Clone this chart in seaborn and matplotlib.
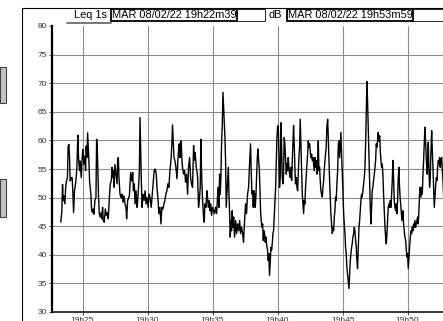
"""
Leq 1s noise level trace - sound level meter printout
"""

import pandas as pd
import matplotlib
matplotlib.use('Agg')
import matplotlib.pyplot as plt
import matplotlib.dates as mdates
from matplotlib.patches import Rectangle
from matplotlib.lines import Line2D
import seaborn as sns

sns.set_style('white')
plt.rcParams['font.family'] = ['Liberation Sans', 'DejaVu Sans']

# Header texts
channel = 'Leq 1s'
unit = 'dB'
start_label = 'MAR 08/02/22 19h22m39'
end_label = 'MAR 08/02/22 19h53m59'

# Time window
day = '2022-02-08'
t_start = '19:22:39'
t_end = '19:53:59'
y_ticks = [30, 35, 40, 45, 50, 55, 60, 65, 70, 75, 80]

# Trace: minutes past 19h00 and level in dB
minutes = [
    23.33, 23.41, 23.46, 23.51, 23.56, 23.64, 23.71, 23.77, 23.84, 23.89,
    23.95, 24.00, 24.05, 24.13, 24.20, 24.25, 24.31, 24.38, 24.43, 24.51,
    24.56, 24.64, 24.69, 24.77, 24.82, 24.90, 24.97, 25.03, 25.10, 25.18,
    25.23, 25.28, 25.33, 25.39, 25.44, 25.49, 25.54, 25.59, 25.64, 25.69,
    25.75, 25.82, 25.87, 25.95, 26.03, 26.08, 26.13, 26.18, 26.23, 26.29,
    26.36, 26.44, 26.49, 26.54, 26.59, 26.67, 26.75, 26.83, 26.90, 26.98,
    27.06, 27.13, 27.21, 27.26, 27.31, 27.37, 27.42, 27.49, 27.57, 27.65,
    27.70, 27.75, 27.80, 27.88, 27.96, 28.03, 28.11, 28.19, 28.26, 28.34,
    28.39, 28.47, 28.55, 28.60, 28.65, 28.70, 28.78, 28.86, 28.91, 28.98,
    29.04, 29.11, 29.19, 29.24, 29.32, 29.37, 29.42, 29.47, 29.52, 29.58,
    29.65, 29.73, 29.81, 29.88, 29.96, 30.04, 30.12, 30.19,
    30.28, 30.41, 30.51, 30.59, 30.67, 30.72, 30.79, 30.87, 30.95, 31.03,
    31.10, 31.18, 31.26, 31.33, 31.41, 31.49, 31.56, 31.64, 31.72, 31.80,
    31.87, 31.92, 31.97, 32.03, 32.10, 32.18, 32.26, 32.33, 32.40, 32.44,
    32.49, 32.54, 32.59, 32.64, 32.69, 32.77, 32.85, 32.92, 33.00, 33.08,
    33.15, 33.23, 33.31, 33.38, 33.46, 33.54, 33.59, 33.64, 33.69, 33.74,
    33.79, 33.85, 33.92, 34.00, 34.05, 34.10, 34.15, 34.21, 34.26, 34.31,
    34.36, 34.41, 34.49, 34.56, 34.61, 34.67, 34.74, 34.80, 34.85, 34.92,
    35.00, 35.08, 35.15, 35.23, 35.31, 35.38, 35.44, 35.49, 35.54, 35.59,
    35.64, 35.69, 35.74, 35.80, 35.85, 35.90, 35.95, 36.00, 36.05, 36.10,
    36.15, 36.21, 36.26, 36.31, 36.36, 36.41, 36.46, 36.51, 36.56, 36.62,
    36.69, 36.77, 36.85, 36.92, 37.00, 37.08, 37.15, 37.23, 37.31, 37.38,
    37.46, 37.54, 37.61, 37.69, 37.77, 37.82, 37.87, 37.92, 37.97, 38.03,
    38.08, 38.13, 38.18, 38.23, 38.28, 38.33, 38.38, 38.44, 38.49, 38.54,
    38.59, 38.64, 38.69, 38.74, 38.80, 38.85, 38.90, 38.95, 39.00, 39.05,
    39.10, 39.15, 39.23, 39.28, 39.33, 39.38, 39.44, 39.49, 39.54, 39.59,
    39.64, 39.69, 39.74, 39.80, 39.85, 39.90, 39.95, 40.00,
    40.05, 40.10, 40.15, 40.21, 40.26, 40.31, 40.36, 40.41, 40.46, 40.51,
    40.56, 40.62, 40.67, 40.72, 40.77, 40.82, 40.87, 40.92, 40.97, 41.03,
    41.08, 41.13, 41.18, 41.23, 41.28, 41.33, 41.38, 41.44, 41.49, 41.54,
    41.59, 41.64, 41.69, 41.74, 41.79, 41.85, 41.90, 41.95, 42.00, 42.05,
    42.10, 42.15, 42.21, 42.26, 42.31, 42.36, 42.41, 42.46, 42.51, 42.56,
    42.62, 42.67, 42.72, 42.77, 42.82, 42.87, 42.92, 42.97, 43.03, 43.08,
    43.13, 43.18, 43.23, 43.28, 43.33, 43.38, 43.44, 43.49, 43.54, 43.59,
    43.64, 43.69, 43.74, 43.79, 43.85, 43.90, 43.95, 44.00, 44.05, 44.10,
    44.15, 44.21, 44.26, 44.31, 44.36, 44.41, 44.46, 44.51, 44.56, 44.62,
    44.67, 44.72, 44.77, 44.82, 44.87, 44.92, 44.97, 45.03, 45.08, 45.13,
    45.18, 45.23, 45.28, 45.33, 45.38, 45.44, 45.49, 45.54, 45.59, 45.64,
    45.69, 45.74, 45.79, 45.85, 45.90, 45.95, 46.00, 46.05, 46.10, 46.15,
    46.21, 46.26, 46.31, 46.36, 46.41, 46.46, 46.51, 46.56, 46.62, 46.67,
    46.72, 46.77, 46.82, 46.87, 46.92, 46.97, 47.03, 47.08, 47.13, 47.18,
    47.23, 47.28, 47.33, 47.38, 47.44, 47.49, 47.54, 47.59, 47.64, 47.69,
    47.74, 47.79, 47.85, 47.90, 47.95, 48.00, 48.05, 48.10, 48.15, 48.21,
    48.26, 48.31, 48.36, 48.41, 48.46, 48.51, 48.56, 48.62, 48.67, 48.72,
    48.77, 48.82, 48.87, 48.92, 48.97, 49.03, 49.08, 49.13, 49.18, 49.23,
    49.28, 49.33, 49.38, 49.44, 49.49, 49.54, 49.59, 49.64, 49.69, 49.74,
    49.79, 49.85, 49.90, 49.95, 50.00, 50.05, 50.10, 50.15, 50.21, 50.26,
    50.31, 50.36, 50.41, 50.46, 50.51, 50.56, 50.62, 50.67, 50.72, 50.77,
    50.82, 50.87, 50.92, 50.97, 51.03, 51.08, 51.13, 51.18, 51.23, 51.28,
    51.33, 51.38, 51.44, 51.49, 51.54, 51.59, 51.64, 51.69, 51.74, 51.79,
    51.85, 51.90, 51.95, 52.00, 52.05, 52.10, 52.15, 52.21, 52.26, 52.31,
    52.36, 52.41, 52.46, 52.51, 52.56, 52.62, 52.67, 52.72, 52.77, 52.90,
]

leq = [
    45.7, 47.7, 52.3, 49.5, 50.3, 48.9, 52.1, 52.9, 53.5, 59.0,
    59.3, 57.0, 52.9, 53.5, 53.5, 51.2, 47.4, 51.2, 51.8, 53.5,
    55.0, 60.9, 57.0, 54.7, 56.4, 53.5, 57.0, 58.4, 55.8, 57.3,
    54.7, 59.0, 57.0, 61.3, 58.7, 56.4, 52.9, 51.8, 50.6, 48.0,
    47.4, 48.0, 47.1, 49.5, 50.0, 60.2, 58.7, 54.7, 50.0, 47.1,
    46.6, 47.4, 46.3, 48.3, 46.0, 45.7, 48.0, 46.9, 47.4, 46.3,
    50.0, 52.4, 52.9, 55.3, 53.5, 54.7, 51.8, 55.8, 54.1, 52.4,
    56.4, 57.0, 53.5, 50.6, 50.0, 50.6, 49.2, 50.3, 48.9, 48.3,
    46.3, 49.5, 50.0, 50.3, 52.4, 54.4, 52.9, 54.4, 51.2, 52.4,
    48.9, 51.2, 48.3, 49.5, 52.4, 54.7, 64.0, 58.7, 52.9, 48.3,
    50.6, 49.5, 51.2, 48.9, 50.0, 48.3, 50.6, 50.0,
    48.3, 51.8, 54.7, 55.0, 54.1, 51.8, 50.1, 47.2, 48.3, 45.4,
    48.3, 48.0, 48.9, 49.5, 50.6, 51.2, 52.4, 51.8, 54.7, 56.5,
    59.4, 62.7, 59.9, 57.0, 56.5, 55.3, 53.3, 56.5, 58.8, 59.4,
    57.0, 59.7, 59.9, 56.5, 55.3, 54.1, 54.7, 52.7, 54.1, 50.6,
    55.3, 57.0, 53.5, 52.4, 51.8, 59.1, 56.5, 57.9, 57.0, 55.3,
    54.7, 53.5, 48.3, 50.1, 51.8, 60.2, 54.7, 50.6, 48.3, 46.6,
    45.7, 48.9, 48.3, 51.2, 50.1, 48.3, 49.5, 47.7, 48.9, 46.9,
    48.3, 47.7, 47.2, 48.3, 47.2, 50.1, 51.8, 48.3, 54.1, 50.6,
    53.5, 59.4, 62.3, 68.4, 65.8, 62.8, 60.5, 56.5, 48.3, 50.6,
    53.0, 55.3, 50.6, 47.2, 43.1, 46.0, 44.2, 47.7, 44.8, 46.6,
    43.1, 46.0, 43.7, 45.4, 44.2, 46.0, 43.7, 44.8, 43.7, 42.2,
    46.0, 48.9, 47.2, 50.6, 51.8, 54.7, 57.0, 59.4, 54.7, 50.6,
    51.2, 48.3, 51.2, 50.6, 48.3, 50.1, 53.5, 57.0, 58.5, 56.5,
    55.3, 51.8, 47.7, 46.0, 44.8, 45.4, 42.5, 44.2, 43.7, 42.2,
    43.1, 41.9, 40.8, 39.0, 40.2, 36.4, 39.0, 41.3, 40.8, 41.9,
    43.7, 44.2, 46.6, 49.5, 51.8, 56.5, 60.5, 62.3,
    62.6, 58.2, 51.8, 54.1, 63.1, 58.8, 53.5, 52.4, 54.1, 60.5,
    59.4, 56.5, 54.1, 55.9, 54.7, 57.0, 55.3, 54.1, 53.5, 55.3,
    53.0, 56.5, 59.4, 62.6, 59.4, 55.3, 52.4, 53.5, 51.8, 51.2,
    54.1, 57.0, 58.8, 63.7, 59.4, 54.7, 50.6, 48.9, 47.2, 49.5,
    48.9, 51.8, 54.1, 55.9, 57.6, 59.9, 58.8, 59.4, 58.2, 57.0,
    57.6, 56.5, 57.0, 55.9, 54.7, 57.0, 55.3, 56.5, 54.1, 55.9,
    59.9, 54.7, 55.3, 53.0, 51.2, 50.6, 50.1, 51.8, 53.0, 54.7,
    56.5, 57.6, 58.8, 62.3, 63.7, 60.5, 56.5, 53.0, 50.1, 47.2,
    45.4, 43.7, 44.8, 44.2, 46.6, 47.7, 50.1, 49.5, 52.4, 54.7,
    59.4, 59.9, 57.0, 59.4, 61.4, 57.6, 54.7, 50.6, 47.2, 45.4,
    43.7, 41.3, 40.2, 37.8, 36.7, 35.5, 34.1, 36.7, 39.0, 40.2,
    41.3, 41.9, 43.1, 43.7, 44.8, 44.2, 42.5, 41.3, 39.0, 37.6,
    41.3, 44.8, 46.0, 47.7, 49.5, 50.6, 50.1, 51.2, 52.4, 53.5,
    55.3, 59.4, 65.2, 70.3, 66.9, 62.3, 56.5, 51.8, 48.3, 45.4,
    48.3, 51.2, 51.8, 53.0, 54.1, 55.3, 56.5, 59.4, 58.8, 59.9,
    61.4, 59.9, 60.8, 58.2, 56.5, 55.3, 55.9, 54.1, 50.6, 47.2,
    44.8, 43.1, 41.9, 43.7, 46.0, 48.3, 48.9, 48.3, 49.5, 48.3,
    50.6, 53.0, 56.5, 53.5, 49.5, 48.3, 47.7, 48.9, 47.2, 49.5,
    53.5, 55.3, 51.8, 49.5, 48.3, 46.6, 46.0, 47.7, 45.4, 44.2,
    43.1, 42.5, 40.8, 39.6, 40.2, 37.6, 39.6, 41.3, 43.1, 44.2,
    43.7, 44.8, 44.2, 45.4, 44.8, 46.0, 44.8, 45.4, 46.0, 46.6,
    45.4, 47.7, 50.6, 51.8, 50.1, 51.8, 50.6, 54.1, 56.5, 59.4,
    62.3, 59.9, 56.5, 54.1, 55.9, 59.7, 54.7, 51.8, 53.5, 57.6,
    61.7, 58.2, 55.3, 51.8, 48.3, 50.1, 51.8, 53.5, 53.0, 55.3,
    56.5, 55.9, 57.0, 55.3, 56.5, 57.0, 54.7, 53.0, 50.1, 49.0,
]

base = pd.Timestamp(f'{day} 19:00:00')
df = pd.DataFrame({
    'time': base + pd.to_timedelta(minutes, unit='m'),
    'leq': leq,
})

# Figure: 443x321 px
W, H = 443, 321
fig = plt.figure(figsize=(W / 100, H / 100), dpi=100)

# plot area runs past the right edge of the printout (it is cut off)
ax = fig.add_axes([52 / W, 9 / H, 407.4 / W, 286 / H])
sns.lineplot(data=df, x='time', y='leq', ax=ax, color='black', lw=1.0,
             estimator=None, sort=False)

ax.set_xlim(pd.Timestamp(f'{day} {t_start}'), pd.Timestamp(f'{day} {t_end}'))
ax.set_ylim(y_ticks[0], y_ticks[-1])
ax.set_yticks(y_ticks)
ax.xaxis.set_major_locator(mdates.MinuteLocator(byminute=range(0, 60, 5)))
ax.xaxis.set_major_formatter(mdates.DateFormatter('%Hh%M'))
ax.set_xlabel('')
ax.set_ylabel('')

# grid: vertical from the locator, horizontal drawn between the limits
ax.grid(axis='x', color='#8c8c8c', lw=0.8)
for v in y_ticks[1:-1]:
    ax.axhline(v, color='#8c8c8c', lw=0.8, zorder=0.5)

ax.tick_params(axis='both', bottom=True, left=True, length=2.5, width=0.7,
               color='#444444', labelsize=6, labelcolor='#333333', pad=1)
for side in ['top', 'right']:
    ax.spines[side].set_visible(False)
ax.spines['left'].set_linewidth(1.6)
ax.spines['left'].set_color('black')
ax.spines['bottom'].set_linewidth(1.1)
ax.spines['bottom'].set_color('black')

# overlay in pixel units for the printout frame and header
ov = fig.add_axes([0, 0, 1, 1], zorder=3)
ov.set_xlim(0, W)
ov.set_ylim(H, 0)
ov.axis('off')
ov.patch.set_alpha(0)

# grey tabs on the left edge
ov.add_patch(Rectangle((0, 67), 6.5, 36, facecolor='#c4c4c4', edgecolor='#444444', lw=0.8))
ov.add_patch(Rectangle((0, 179), 6.5, 38, facecolor='#c4c4c4', edgecolor='#444444', lw=0.8))

# panel frame
ov.add_line(Line2D([21.7, 21.7], [7.8, H], color='black', lw=0.8))
ov.add_line(Line2D([21.7, W], [7.8, 7.8], color='black', lw=0.8))

# header
ov.text(107.5, 15, channel, ha='right', va='center', fontsize=7.9, color='black')
ov.add_line(Line2D([67, 111], [22.6, 22.6], color='#777777', lw=1.4))
ov.add_patch(Rectangle((111, 9.3), 126, 11.4, facecolor='white', edgecolor='black', lw=1.3))
ov.text(112.5, 15.2, start_label, ha='left', va='center', fontsize=7.9, color='black')
ov.add_patch(Rectangle((237, 9.3), 28, 11.4, facecolor='white', edgecolor='black', lw=0.6))
ov.text(268.5, 15.2, unit, ha='left', va='center', fontsize=7.9, color='black')
ov.add_patch(Rectangle((287, 9.3), 126, 11.4, facecolor='white', edgecolor='black', lw=1.3))
ov.text(288.5, 15.2, end_label, ha='left', va='center', fontsize=7.9, color='black')
ov.add_patch(Rectangle((413, 9.3), 30, 11.4, facecolor='white', edgecolor='black', lw=0.6))

plt.savefig('out.png', dpi=100)
plt.close()
